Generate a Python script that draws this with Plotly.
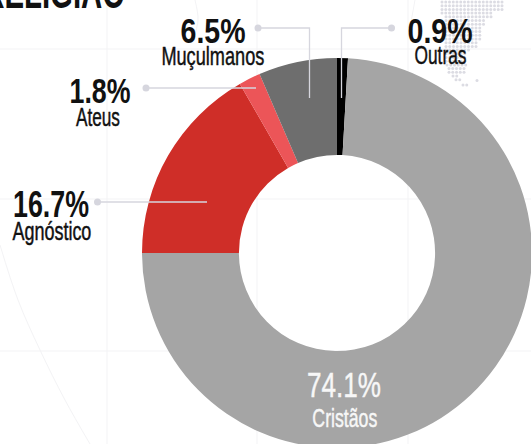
import json
import plotly.graph_objects as go

categories = ["Outras", "Cristãos", "Agnóstico", "Ateus", "Muçulmanos"]
values = [0.9, 74.1, 16.7, 1.8, 6.5]
colors = ["#000000", "#a5a5a5", "#cf2e28", "#ec5558", "#6e6e6e"]

W, H = 540, 452
CX, CY, R = 337, 253, 195
FONT = "Liberation Sans"

grid_x = [107, 257, 408]
grid_y = [49, 199, 351]
curve1_x = [0, 18, 40, 65, 90]
curve1_y = [245, 300, 350, 400, 444]
curve2_x = [195, 198, 193]
curve2_y = [0, 20, 40]
curve3_x = [415, 411]
curve3_y = [0, 22]

dot_rows = [
    (2, 442, 502), (5.7, 442, 502), (9.4, 442, 502), (13.1, 442, 491), (16.8, 446, 491),
    (20.5, 446, 487), (24.2, 446, 487), (27.9, 446, 483), (31.6, 446, 483), (35.3, 446, 480),
    (39, 446, 480), (42.7, 446, 476), (46.4, 446, 476), (50.1, 446, 472), (53.8, 446, 468),
    (57.5, 446, 468), (61.2, 446, 468), (64.9, 447, 466), (68.6, 449, 466), (72.3, 449, 464),
    (76, 453, 460), (79.7, 456, 460), (85, 463, 468),
]
extra_dot_x = [477]
extra_dot_y = [80.5]

# text, centre x, centre y, y shift, font size, colour, bold, target width
labels = [
    ("6.5%", 212.5, 30, 0, 36, "#111", True, 65), ("Muçulmanos", 213, 56, 0, 25, "#111", False, 103),
    ("1.8%", 99.5, 90, 0, 36, "#111", True, 61), ("Ateus", 98, 117, 0, 25, "#111", False, 44),
    ("16.7%", 51, 204, 0, 36, "#111", True, 76), ("Agnóstico", 51.5, 231, 0, 25, "#111", False, 79),
    ("0.9%", 439.5, 30, 0, 36, "#111", True, 65), ("Outras", 440, 55, 0, 25, "#111", False, 52),
    ("74.1%", 344, 384, 0, 36, "#f7f7f7", False, 74), ("Cristãos", 344.5, 418, 0, 25, "#f7f7f7", False, 65),
    ("RELIGIÃO", 54, 0, 8, 46, "#111", True, 142),
]

leaders = [
    [(258, 28), (309.5, 28), (309.5, 98)],
    [(391.5, 28), (341.5, 28), (341.5, 98)],
    [(146, 88), (256, 88)],
    [(97.5, 202), (207, 202)],
]

fig = go.Figure()
dx, dy = [], []
for y, x0, x1 in dot_rows:
    x = x0
    while x <= x1:
        dx.append(x)
        dy.append(y)
        x += 3.75
fig.add_trace(go.Scatter(x=dx + extra_dot_x, y=dy + extra_dot_y, mode="markers",
                         marker=dict(size=3, color="#dcdce3"), hoverinfo="skip", showlegend=False))
for cx_, cy_ in [(curve1_x, curve1_y), (curve2_x, curve2_y), (curve3_x, curve3_y)]:
    fig.add_trace(go.Scatter(x=cx_, y=cy_, mode="lines", line=dict(color="#f3f3f5", width=1, shape="spline"),
                             hoverinfo="skip", showlegend=False))

fig.add_trace(go.Pie(labels=categories, values=values, sort=False, direction="clockwise", rotation=0,
                     hole=0.503, textinfo="none", showlegend=False,
                     marker=dict(colors=colors, line=dict(width=0)),
                     domain=dict(x=[(CX - R) / W, (CX + R) / W], y=[1 - (CY + R) / H, 1 - (CY - R) / H])))

shapes = []
for x in grid_x:
    shapes.append(dict(type="line", x0=x, x1=x, y0=0, y1=H, layer="below", line=dict(color="#f3f3f5", width=1)))
for y in grid_y:
    shapes.append(dict(type="line", x0=0, x1=W, y0=y, y1=y, layer="below", line=dict(color="#f3f3f5", width=1)))
for pts in leaders:
    path = "M " + " L ".join(f"{x} {y}" for x, y in pts)
    shapes.append(dict(type="path", path=path, line=dict(color="#d6d6de", width=1.3), layer="above"))
    x, y = pts[0]
    shapes.append(dict(type="circle", x0=x - 3.5, x1=x + 3.5, y0=y - 3.5, y1=y + 3.5,
                       fillcolor="#d6d6de", line=dict(width=0), layer="above"))

ann = []
for t, x, y, ys, s, c, b, _w in labels:
    ann.append(dict(x=x, y=y, yshift=ys, text=f"<b>{t}</b>" if b else t, showarrow=False,
                    xanchor="center", yanchor="middle", font=dict(family=FONT, size=s, color=c)))

fig.update_layout(width=W, height=H, margin=dict(l=0, r=0, t=0, b=0), autosize=False,
                  paper_bgcolor="white", plot_bgcolor="white",
                  xaxis=dict(range=[0, W], visible=False, fixedrange=True),
                  yaxis=dict(range=[H, 0], visible=False, fixedrange=True),
                  shapes=shapes, annotations=ann)

targets = {t: w for t, *_r, w in labels}
medium = [t for t, *_r, b, w in labels if not b]
script = """
document.documentElement.style.overflow='hidden';
document.body.style.overflow='hidden';
document.body.style.margin='0';
var TARGETS = %s;
var MEDIUM = %s;
function squeeze(){
  var nodes = document.querySelectorAll('.annotation-text');
  if(!nodes.length){ requestAnimationFrame(squeeze); return; }
  nodes.forEach(function(n){
    var w = TARGETS[n.textContent];
    if(!w || n.getAttribute('data-sq')) return;
    var b = n.getBBox();
    var c = b.x + b.width/2, k = w/b.width;
    n.setAttribute('transform','translate('+c+' 0) scale('+k+' 1) translate('+(-c)+' 0)');
    n.setAttribute('data-sq','1');
    if(MEDIUM.indexOf(n.textContent) >= 0){
      n.style.stroke = n.style.fill;
      n.style.strokeWidth = '0.45px';
    }
  });
}
squeeze();
""" % (json.dumps(targets, ensure_ascii=False), json.dumps(medium, ensure_ascii=False))
fig.write_html("out.html", config=dict(displayModeBar=False), post_script=script)
